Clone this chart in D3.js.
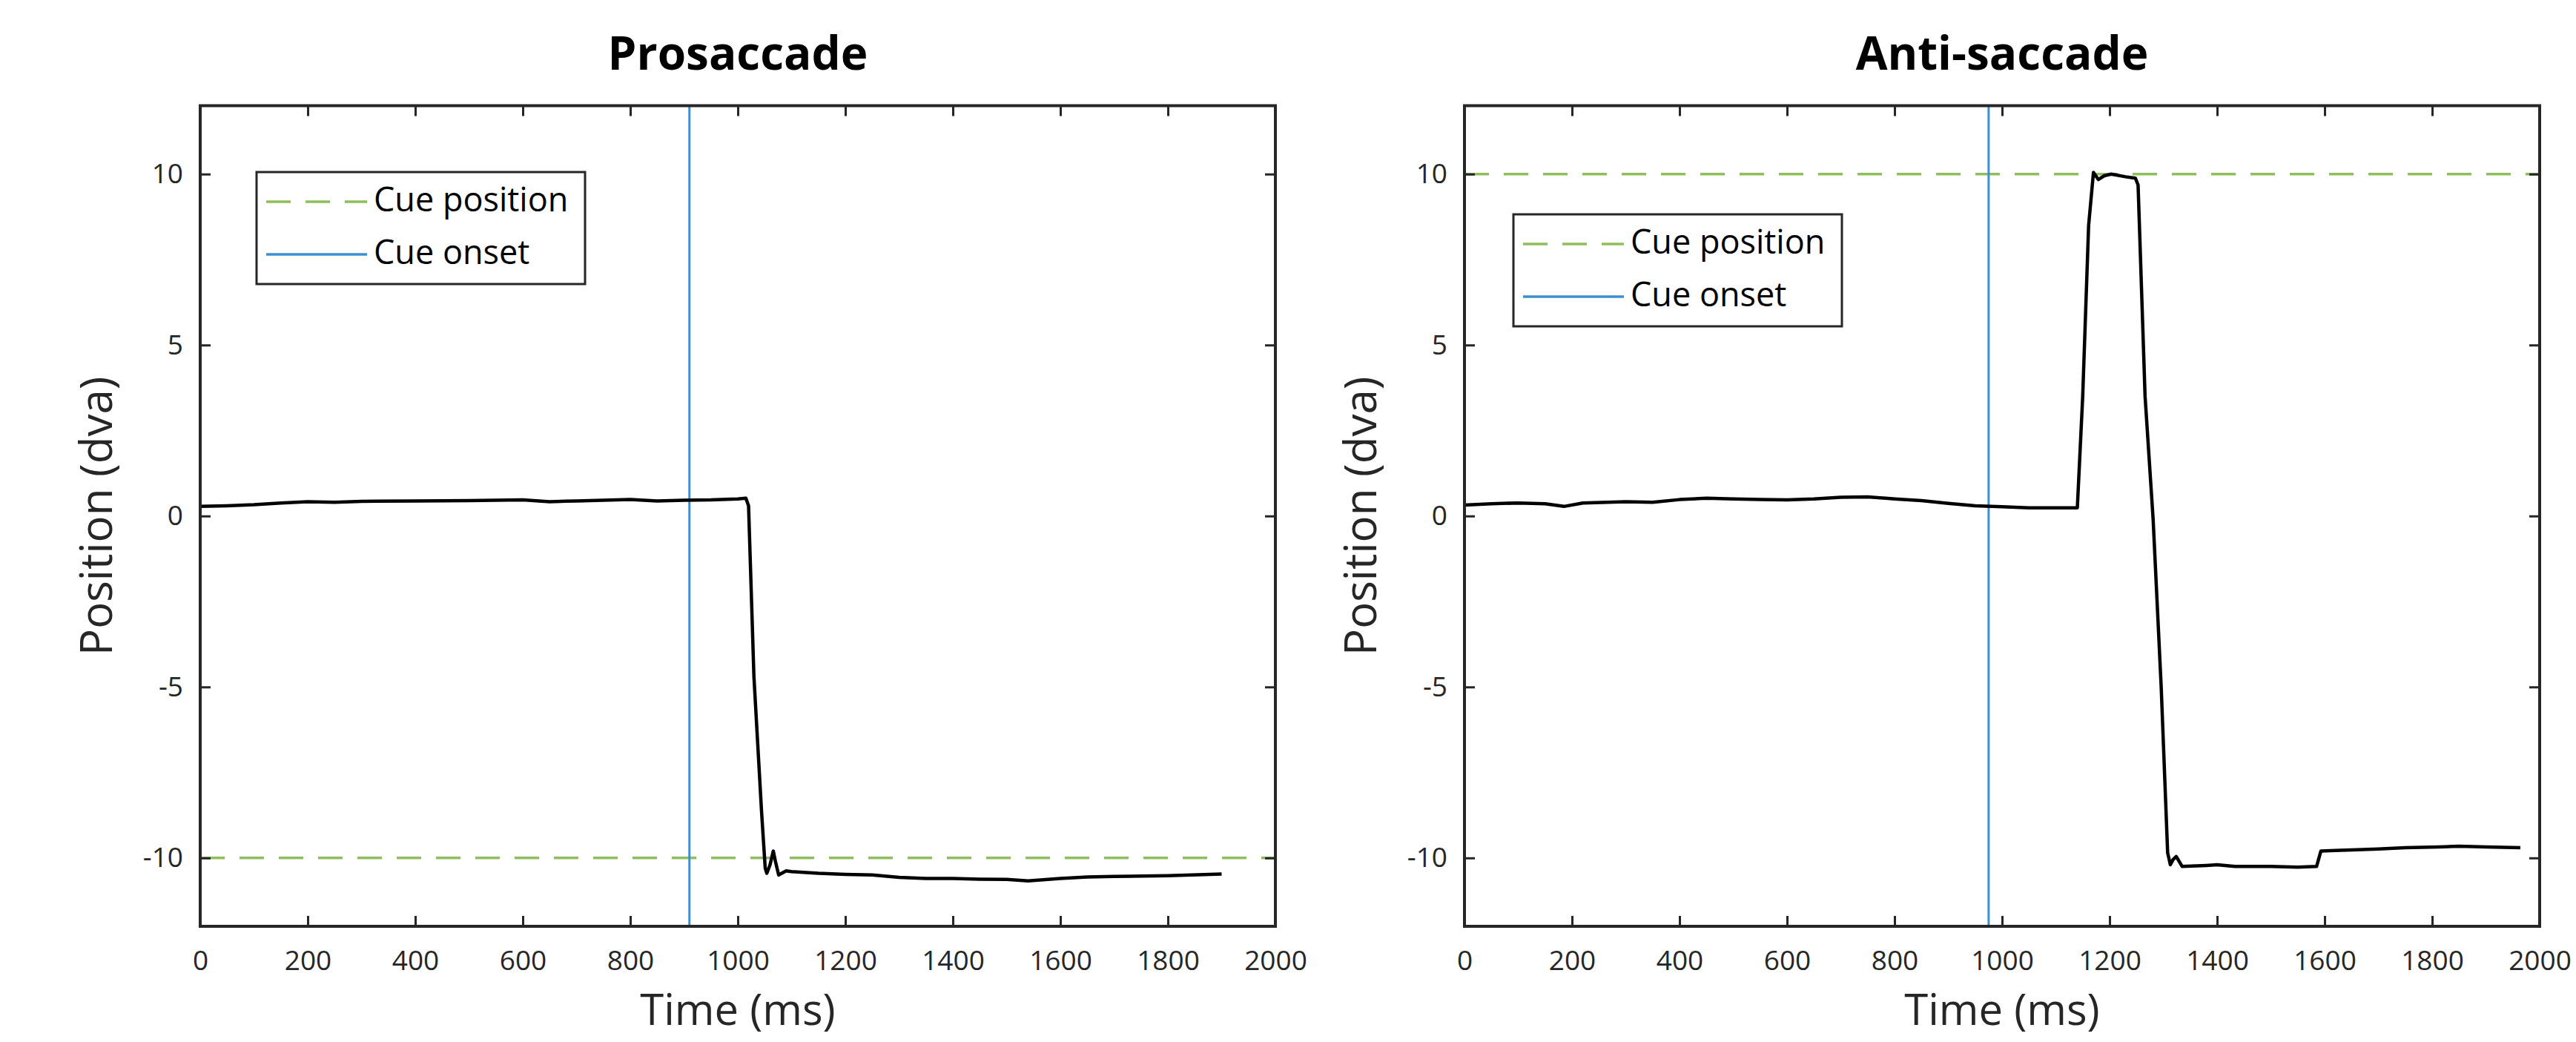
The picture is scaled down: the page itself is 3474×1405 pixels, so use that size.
<!DOCTYPE html>
<html>
<head>
<meta charset="utf-8">
<script src="https://cdn.jsdelivr.net/npm/d3@7"></script>
<style>
  html, body { margin: 0; padding: 0; background: #fff; }
  svg { display: block; font-family: 'Open Sans', sans-serif; }
  .axis path, .axis line { stroke: #262626; }
  .axis text { fill: #262626; font-size: 37px; font-family: 'Open Sans', sans-serif; }
</style>
</head>
<body>
<svg width="3474" height="1405"></svg>
<script>
// eye position traces (ms, degrees of visual angle)
const proTime = [0, 50, 100, 150, 200, 250, 300, 400, 500, 600, 650, 700, 800, 850, 900, 950, 1000, 1015,
  1020, 1030, 1044, 1051, 1054, 1060, 1066, 1070, 1076, 1090, 1100, 1150, 1200, 1250, 1300, 1350, 1400,
  1450, 1500, 1540, 1600, 1650, 1700, 1800, 1900]
const proPos = [0.28, 0.30, 0.33, 0.38, 0.42, 0.40, 0.43, 0.44, 0.45, 0.47, 0.42, 0.44, 0.48, 0.44, 0.46, 0.47, 0.50, 0.52,
  0.30, -4.7, -8.6, -10.3, -10.45, -10.2, -9.8, -10.1, -10.5, -10.38, -10.4, -10.45, -10.48, -10.5, -10.57, -10.6, -10.6,
  -10.62, -10.63, -10.67, -10.6, -10.56, -10.54, -10.52, -10.47]

const antiTime = [0, 50, 100, 150, 185, 220, 300, 350, 400, 450, 500, 550, 600, 650, 700, 750, 800, 850, 900, 950,
  1000, 1050, 1100, 1140, 1150, 1161, 1170, 1179, 1190, 1203, 1230, 1248, 1253, 1266, 1281, 1296, 1308, 1313,
  1318, 1324, 1335, 1380, 1400, 1433, 1500, 1550, 1585, 1593, 1620, 1661, 1700, 1750, 1813, 1850, 1900, 1964]
const antiPos = [0.32, 0.36, 0.38, 0.36, 0.28, 0.38, 0.42, 0.40, 0.48, 0.52, 0.50, 0.48, 0.47, 0.50, 0.55, 0.56, 0.50, 0.45, 0.37, 0.30,
  0.27, 0.24, 0.24, 0.24, 3.5, 8.5, 10.05, 9.84, 9.95, 10.0, 9.92, 9.88, 9.68, 3.5, -0.1, -5.0, -9.85, -10.2,
  -10.05, -9.96, -10.25, -10.22, -10.2, -10.25, -10.25, -10.27, -10.25, -9.8, -9.78, -9.76, -9.74, -9.7, -9.68, -9.66, -9.68, -9.7]

const titles = ['Prosaccade', 'Anti-saccade']
const cuePositions = [-10, 10]
const cueOnsets = [910, 975]
const xTicks = [0, 200, 400, 600, 800, 1000, 1200, 1400, 1600, 1800, 2000]
const yTicks = [-10, -5, 0, 5, 10]
const legendLabels = ['Cue position', 'Cue onset']

const GREEN = '#8fbf5c'
const BLUE = '#3d8fd1'
const AX = '#262626'

const svg = d3.select('svg')

const panels = [
  { left: 270, time: proTime, pos: proPos, legend: { dx: 76, y: 232 } },
  { left: 1975, time: antiTime, pos: antiPos, legend: { dx: 66, y: 289 } }
]

const TOP = 142.5
const BOTTOM = 1249
const WIDTH = 1450
const plain = d => String(d)

panels.forEach((p, i) => {
  const x = d3.scaleLinear().domain([0, 2000]).range([p.left, p.left + WIDTH])
  const y = d3.scaleLinear().domain([-12, 12]).range([BOTTOM, TOP])
  const g = svg.append('g')

  // cue position (dashed) and cue onset (vertical)
  g.append('line')
    .attr('x1', x(0)).attr('x2', x(2000))
    .attr('y1', y(cuePositions[i])).attr('y2', y(cuePositions[i]))
    .attr('stroke', GREEN).attr('stroke-width', 3.5)
    .attr('stroke-dasharray', '33,20')

  g.append('line')
    .attr('x1', x(cueOnsets[i])).attr('x2', x(cueOnsets[i]))
    .attr('y1', y(12)).attr('y2', y(-12))
    .attr('stroke', BLUE).attr('stroke-width', 3)

  // eye trace
  const pts = p.time.map((t, k) => [t, p.pos[k]])
  g.append('path')
    .datum(pts)
    .attr('fill', 'none')
    .attr('stroke', '#000')
    .attr('stroke-width', 4.5)
    .attr('stroke-linejoin', 'round')
    .attr('d', d3.line().x(d => x(d[0])).y(d => y(d[1])))

  // axes, ticks pointing in, on all four sides
  g.append('g').attr('class', 'axis')
    .attr('transform', `translate(0,${BOTTOM})`)
    .call(d3.axisBottom(x).tickValues(xTicks).tickFormat(plain).tickSizeInner(-14).tickSizeOuter(0).tickPadding(33))
  g.append('g').attr('class', 'axis')
    .attr('transform', `translate(0,${TOP})`)
    .call(d3.axisTop(x).tickValues(xTicks).tickSizeInner(-14).tickSizeOuter(0).tickFormat(''))
  g.append('g').attr('class', 'axis')
    .attr('transform', `translate(${p.left},0)`)
    .call(d3.axisLeft(y).tickValues(yTicks).tickFormat(plain).tickSizeInner(-14).tickSizeOuter(0).tickPadding(23))
  g.append('g').attr('class', 'axis')
    .attr('transform', `translate(${p.left + WIDTH},0)`)
    .call(d3.axisRight(y).tickValues(yTicks).tickSizeInner(-14).tickSizeOuter(0).tickFormat(''))

  g.selectAll('.axis line').attr('stroke-width', 3)
  g.selectAll('.axis path').remove()

  g.append('rect')
    .attr('x', x(0)).attr('y', y(12))
    .attr('width', WIDTH).attr('height', BOTTOM - TOP)
    .attr('fill', 'none').attr('stroke', AX).attr('stroke-width', 4)

  // labels
  g.append('text')
    .attr('x', x(1000)).attr('y', 94)
    .attr('text-anchor', 'middle')
    .attr('font-size', 62).attr('font-weight', 'bold')
    .attr('fill', '#000')
    .text(titles[i])

  g.append('text')
    .attr('x', x(1000)).attr('y', 1382)
    .attr('text-anchor', 'middle')
    .attr('font-size', 58).attr('fill', AX)
    .text('Time (ms)')

  g.append('text')
    .attr('transform', `translate(${p.left - 119},${(TOP + BOTTOM) / 2}) rotate(-90)`)
    .attr('text-anchor', 'middle')
    .attr('font-size', 60).attr('fill', AX)
    .text('Position (dva)')

  // legend
  const lx = p.left + p.legend.dx
  const ly = p.legend.y
  const lg = g.append('g')
  lg.append('rect')
    .attr('x', lx).attr('y', ly).attr('width', 443).attr('height', 151)
    .attr('fill', '#fff').attr('stroke', AX).attr('stroke-width', 3)

  const rows = [{ y: ly + 40, color: GREEN, dash: '33,20' }, { y: ly + 111, color: BLUE, dash: null }]
  rows.forEach((r, k) => {
    lg.append('line')
      .attr('x1', lx + 13).attr('x2', lx + 149)
      .attr('y1', r.y).attr('y2', r.y)
      .attr('stroke', r.color).attr('stroke-width', 3.5)
      .attr('stroke-dasharray', r.dash)
    lg.append('text')
      .attr('x', lx + 158).attr('y', r.y + 13)
      .attr('font-size', 45).attr('fill', '#000')
      .text(legendLabels[k])
  })
})
</script>
</body>
</html>
